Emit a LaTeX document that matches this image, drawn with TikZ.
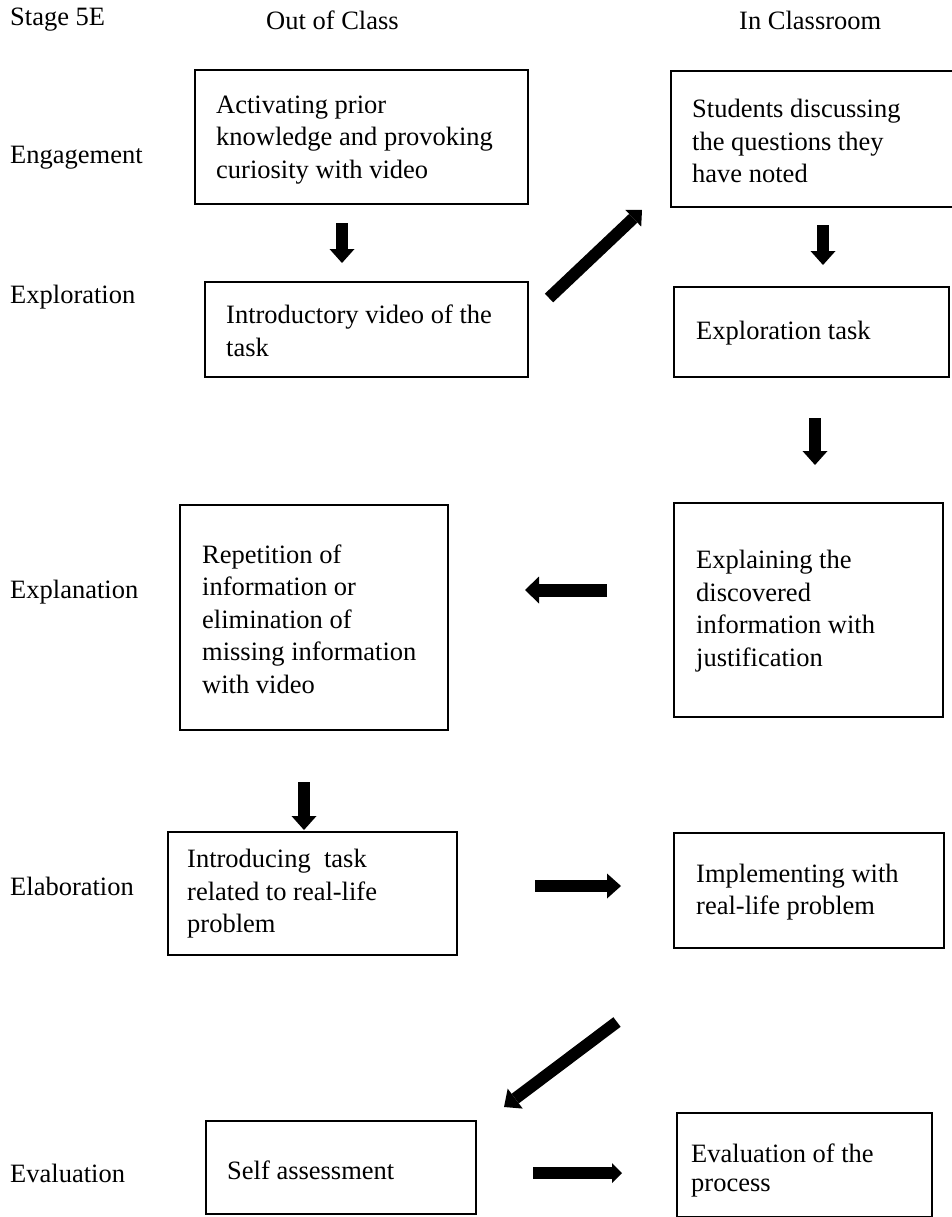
\documentclass[tikz,border=0pt]{standalone}
\usepackage{fontspec}
\setmainfont{Liberation Serif}
\usetikzlibrary{arrows.meta}
\begin{document}
\begin{tikzpicture}[x=1pt,y=-1pt,
  box/.style={draw, line width=1.8pt, inner sep=0pt},
  txt/.style={anchor=west, inner sep=0pt, align=left, font=\fontsize{26.5}{32.5}\selectfont},
  lbl/.style={anchor=west, inner sep=0pt, font=\fontsize{26.5}{32.5}\selectfont},
  blk/.style={line width=12pt, -{Triangle[width=25pt,length=14pt,line width=0pt]}},
  blkdiag/.style={line width=12pt, -{Triangle[width=23pt,length=12pt,line width=0pt]}},
  blksmall/.style={line width=12pt, -{Triangle[width=20pt,length=10pt,line width=0pt]}},
]
\useasboundingbox (0,0) rectangle (952,1217);

% headers and stage labels
\node[lbl] (h1) at (10,20) {Stage 5E};
\node[lbl] (h2) at (266,20) {Out of Class};
\node[lbl] (h3) at (739,20) {In Classroom};
\node[lbl] (s1) at (10,158) {Engagement};
\node[lbl] (s2) at (10,297) {Exploration};
\node[lbl] (s3) at (10,592) {Explanation};
\node[lbl] (s4) at (10,886) {Elaboration};
\node[lbl] (s5) at (10,1173) {Evaluation};

% boxes
\node[box, minimum width=333pt, minimum height=134pt] (b1) at (361.5,137) {};
\node[box, minimum width=323pt, minimum height=95pt] (b2) at (366.5,329.5) {};
\node[box, minimum width=283pt, minimum height=136pt] (b3) at (812.5,139) {};
\node[box, minimum width=275pt, minimum height=90pt] (b4) at (811.5,332) {};
\node[box, minimum width=269pt, minimum height=214pt] (b5) at (808.5,610) {};
\node[box, minimum width=268pt, minimum height=225pt] (b6) at (314,617.5) {};
\node[box, minimum width=289pt, minimum height=123pt] (b7) at (312.5,893.5) {};
\node[box, minimum width=270pt, minimum height=115pt] (b8) at (809,890.5) {};
\node[box, minimum width=270pt, minimum height=93pt] (b9) at (341,1167.5) {};
\node[box, minimum width=255pt, minimum height=104pt] (b10) at (804.5,1165) {};

% box texts
\node[txt] (t1) at (216,140) {Activating prior\\knowledge and provoking\\curiosity with video};
\node[txt] (t2) at (226,331) {Introductory video of the\\task};
\node[txt] (t3) at (692,141) {Students discussing\\the questions they\\have noted};
\node[txt] (t4) at (696,333) {Exploration task};
\node[txt] (t5) at (696,611) {Explaining the\\discovered\\information with\\justification};
\node[txt] (t6) at (202,619) {Repetition of\\information or\\elimination of\\missing information\\with video};
\node[txt] (t7) at (187,894) {Introducing~ task\\related to real-life\\problem};
\node[txt] (t8) at (696,892) {Implementing with\\real-life problem};
\node[txt] (t9) at (227,1170) {Self assessment};
\node[txt, font=\fontsize{26.5}{29}\selectfont] (t10) at (691,1170) {Evaluation of the\\process};

% arrow end points
\coordinate (a1s) at (342,223);  \coordinate (a1e) at (342,263);
\coordinate (a2s) at (549,298);  \coordinate (a2e) at (642,210);
\coordinate (a3s) at (823,225);  \coordinate (a3e) at (823,265);
\coordinate (a4s) at (815,418);  \coordinate (a4e) at (815,465);
\coordinate (a5s) at (607,590);  \coordinate (a5e) at (525,590);
\coordinate (a6s) at (304,782);  \coordinate (a6e) at (304,830);
\coordinate (a7s) at (535,886);  \coordinate (a7e) at (621,886);
\coordinate (a8s) at (617,1022); \coordinate (a8e) at (504,1107);
\coordinate (a9s) at (533,1173); \coordinate (a9e) at (622,1173);

\draw[blk] (a1s) -- (a1e);
\draw[blkdiag] (a2s) -- (a2e);
\draw[blk] (a3s) -- (a3e);
\draw[blk] (a4s) -- (a4e);
\draw[blk, line width=13pt, -{Triangle[width=27pt,length=14pt,line width=0pt]}] (a5s) -- (a5e);
\draw[blk] (a6s) -- (a6e);
\draw[blk] (a7s) -- (a7e);
\draw[blk] (a8s) -- (a8e);
\draw[blksmall] (a9s) -- (a9e);
\end{tikzpicture}
\end{document}
